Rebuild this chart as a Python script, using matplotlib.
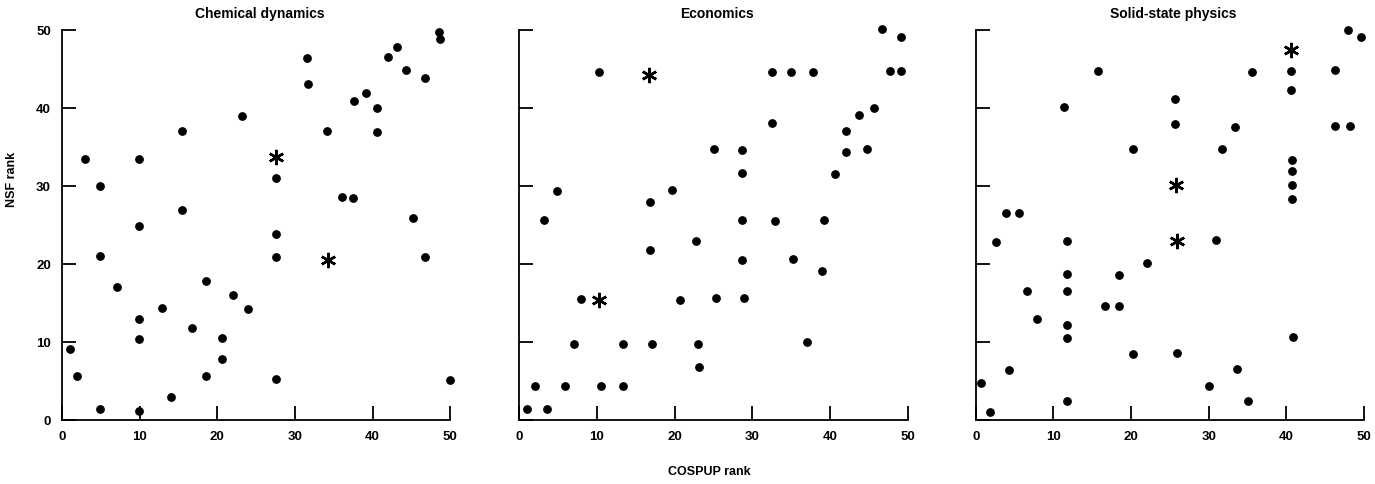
import matplotlib
matplotlib.use("Agg")
import matplotlib.pyplot as plt

plt.rcParams['font.family'] = ['Liberation Sans', 'DejaVu Sans']

titles = ['Chemical dynamics', 'Economics', 'Solid-state physics']
ticks = [0, 10, 20, 30, 40, 50]

# (COSPUP rank, NSF rank) for dots
chem_x = [3.0, 4.9, 9.9, 15.5, 9.9, 15.4, 23.2, 48.5, 48.7, 43.1, 42.0, 44.3, 46.7, 31.5,
          31.7, 39.2, 37.6, 40.6, 34.1, 40.6, 27.6, 36.0, 37.5, 45.2, 27.6, 27.6, 46.8, 24.0,
          27.6, 50.0, 4.9, 7.1, 12.9, 9.9, 9.9, 18.5, 22.0, 16.8, 20.6, 20.6, 18.6, 14.1,
          1.0, 1.9, 4.9, 9.9]
chem_y = [33.5, 30.0, 33.5, 37.0, 24.9, 26.9, 39.0, 49.8, 48.9, 47.8, 46.5, 44.9, 43.9, 46.4,
          43.1, 41.9, 40.9, 40.0, 37.1, 36.9, 31.0, 28.6, 28.5, 25.9, 23.9, 20.9, 20.9, 14.3,
          5.3, 5.1, 21.0, 17.1, 14.4, 13.0, 10.4, 17.8, 16.1, 11.8, 10.5, 7.8, 5.6, 3.0,
          9.1, 5.6, 1.4, 1.2]
chem_star_x = [27.6, 34.2]
chem_star_y = [33.7, 20.5]

econ_x = [10.2, 4.9, 19.6, 16.8, 3.2, 25.1, 46.7, 49.1, 32.6, 35.0, 37.8, 47.7, 49.2, 45.7,
          43.7, 32.6, 42.1, 28.7, 42.1, 44.8, 28.7, 40.6, 28.7, 32.9, 39.3, 16.8, 22.7, 7.9,
          20.7, 25.3, 7.1, 13.3, 17.1, 23.0, 23.1, 2.0, 5.9, 10.5, 13.3, 1.0, 3.5, 28.7,
          35.3, 39.0, 28.9, 37.0]
econ_y = [44.6, 29.4, 29.5, 28.0, 25.7, 34.7, 50.1, 49.1, 44.6, 44.6, 44.6, 44.8, 44.8, 40.0,
          39.1, 38.1, 37.0, 34.6, 34.4, 34.7, 31.7, 31.6, 25.6, 25.5, 25.7, 21.8, 23.0, 15.5,
          15.4, 15.6, 9.8, 9.8, 9.8, 9.8, 6.8, 4.4, 4.4, 4.4, 4.4, 1.4, 1.4, 20.5,
          20.6, 19.1, 15.6, 10.0]
econ_star_x = [16.7, 10.3]
econ_star_y = [44.2, 15.4]

solid_x = [15.7, 11.4, 20.2, 3.9, 5.6, 47.9, 49.6, 35.6, 40.6, 46.3, 40.6, 25.7, 25.7, 33.4,
           46.3, 48.2, 31.7, 40.7, 40.7, 40.7, 40.7, 2.6, 11.7, 11.7, 11.7, 11.7, 11.7, 11.7,
           6.6, 7.9, 22.0, 18.4, 16.7, 18.4, 20.3, 25.9, 4.3, 0.7, 1.8, 30.9, 40.8, 33.6,
           30.1, 35.1]
solid_y = [44.8, 40.2, 34.7, 26.6, 26.6, 50.0, 49.1, 44.6, 44.7, 44.9, 42.3, 41.1, 37.9, 37.6,
           37.7, 37.7, 34.8, 33.3, 31.9, 30.1, 28.3, 22.8, 23.0, 18.7, 16.6, 12.2, 10.5, 2.5,
           16.5, 12.9, 20.1, 18.6, 14.6, 14.6, 8.5, 8.6, 6.4, 4.8, 1.0, 23.1, 10.6, 6.5,
           4.4, 2.4]
solid_star_x = [40.6, 25.8, 25.9]
solid_star_y = [47.5, 30.2, 22.9]

panels = [
    (chem_x, chem_y, chem_star_x, chem_star_y),
    (econ_x, econ_y, econ_star_x, econ_star_y),
    (solid_x, solid_y, solid_star_x, solid_star_y),
]
lefts = [0.0451, 0.3777, 0.7096]

fig = plt.figure(figsize=(13.75, 4.84), dpi=100)

for i, (px, py, sx, sy) in enumerate(panels):
    ax = fig.add_axes([lefts[i], 0.132, 0.288, 0.822])
    ax.scatter(px, py, s=28, color='black', zorder=3, clip_on=False)
    ax.plot(sx, sy, linestyle='none', marker=(6, 2, 0), markersize=11,
            markeredgewidth=1.8, color='black', clip_on=False)
    ax.set_xlim(0, 51)
    ax.set_ylim(0, 51)
    ax.spines['top'].set_visible(False)
    ax.spines['right'].set_visible(False)
    ax.spines['left'].set_bounds(0, 50)
    ax.spines['bottom'].set_bounds(0, 50)
    for sp in ('left', 'bottom'):
        ax.spines[sp].set_linewidth(1.3)
    ax.set_xticks(ticks)
    ax.set_yticks(ticks)
    ax.tick_params(direction='in', length=10, width=1.3, labelsize=9.5, pad=8)
    for lab in ax.get_xticklabels() + ax.get_yticklabels():
        lab.set_fontweight('bold')
    if i > 0:
        ax.set_yticklabels([])
    ax.set_title(titles[i], fontsize=10, fontweight='bold', pad=3)

fig.text(0.009, 0.63, 'NSF rank', rotation=90, ha='center', va='center',
         fontsize=9, fontweight='bold')
fig.text(0.516, 0.012, 'COSPUP rank', ha='center', va='bottom', fontsize=9, fontweight='bold')

fig.savefig('out.png', dpi=100)
